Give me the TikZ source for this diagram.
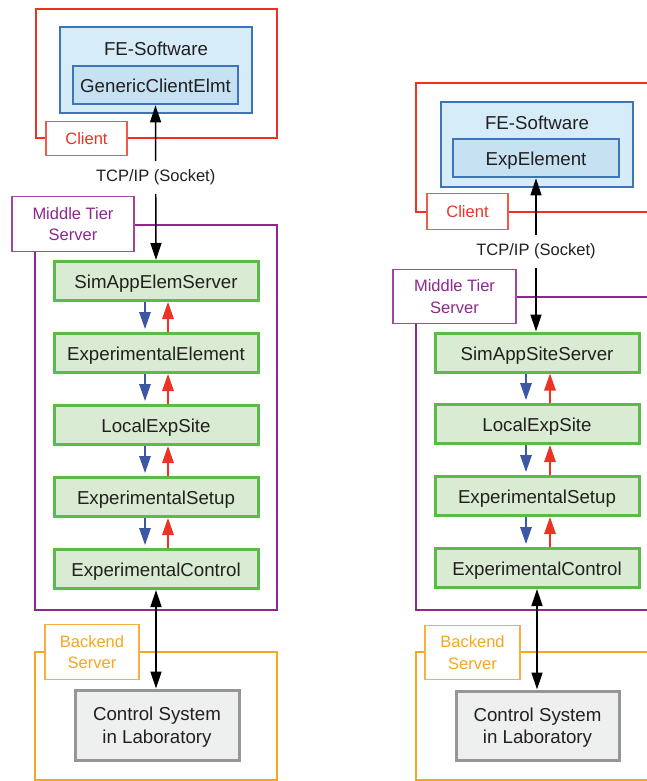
\documentclass[tikz,border=0pt]{standalone}
\usepackage{fontspec}
\setmainfont{Liberation Sans}
\usetikzlibrary{arrows.meta}

\definecolor{clientred}{RGB}{237,50,36}
\definecolor{clientlbl}{RGB}{240,90,75}
\definecolor{midpurple}{RGB}{142,40,142}
\definecolor{midlbl}{RGB}{160,70,160}
\definecolor{backorange}{RGB}{247,166,33}
\definecolor{backlbl}{RGB}{248,176,60}
\definecolor{feblue}{RGB}{62,116,184}
\definecolor{fefill}{RGB}{214,236,248}
\definecolor{elemfill}{RGB}{197,225,242}
\definecolor{modgreen}{RGB}{92,186,72}
\definecolor{modfill}{RGB}{217,236,211}
\definecolor{labgray}{RGB}{150,150,150}
\definecolor{labfill}{RGB}{238,240,239}
\definecolor{downblue}{RGB}{59,87,166}
\definecolor{upred}{RGB}{237,50,36}
\definecolor{txt}{RGB}{35,31,32}

\tikzset{
  frame/.style={draw, line width=2.8pt, fill=none, inner sep=0pt},
  tierlabel/.style={draw, line width=1.2pt, fill=white, align=center,
    font=\fontsize{16.5}{21.5}\selectfont, inner sep=0pt},
  febox/.style={draw=feblue, line width=2.8pt, fill=fefill, inner sep=0pt},
  elembox/.style={draw=feblue, line width=2.8pt, fill=elemfill, inner sep=0pt,
    font=\fontsize{18.7}{22}\selectfont, text=txt,
    text height=14.5pt, text depth=0pt},
  modbox/.style={draw=modgreen, line width=3pt, fill=modfill, inner sep=0pt,
    minimum width=204pt, minimum height=39pt,
    font=\fontsize{18.7}{22}\selectfont, text=txt,
    text height=15pt, text depth=0pt},
  labbox/.style={draw=labgray, line width=3pt, fill=labfill, inner sep=0pt,
    align=center, minimum width=164pt, minimum height=70pt,
    font=\fontsize{18.7}{22.5}\selectfont, text=txt, text depth=0pt},
  headtxt/.style={font=\fontsize{18.7}{22}\selectfont, text=txt, inner sep=0pt,
    text height=13.4pt, text depth=0pt},
  link/.style={draw=black, line width=1.4pt,
    {Triangle[length=17pt,width=11pt]}-{Triangle[length=17pt,width=11pt]}},
  socket/.style={fill=white, text=txt, inner xsep=2pt, inner ysep=9pt,
    font=\fontsize{16.5}{20}\selectfont},
  calldown/.style={draw=downblue, line width=1.5pt,
    -{Triangle[length=17pt,width=11.5pt]}, shorten >=3pt},
  callup/.style={draw=upred, line width=1.5pt,
    -{Triangle[length=17pt,width=11.5pt]}},
}

\begin{document}
\begin{tikzpicture}[x=1pt, y=-1pt]
\clip (0,0) rectangle (647,781);

% ---------------- left stack ----------------
\node[frame, draw=clientred, minimum width=241pt, minimum height=129pt] (clientL) at (156.5,73.5) {};
\node[frame, draw=midpurple, minimum width=242pt, minimum height=385pt] (midL) at (156,417.5) {};
\node[frame, draw=backorange, minimum width=242pt, minimum height=128pt] (backL) at (156,716) {};

\node[tierlabel, draw=clientlbl, text=clientred, minimum width=81pt, minimum height=34pt] (clientLblL) at (86.5,138.5) {Client};
\node[tierlabel, draw=midlbl, text=midpurple, minimum width=122pt, minimum height=55pt] (midLblL) at (73,224) {Middle Tier\\Server};
\node[tierlabel, draw=backlbl, text=backorange, minimum width=94pt, minimum height=55pt] (backLblL) at (92,652) {Backend\\Server};

\node[febox, minimum width=192pt, minimum height=86pt] (feL) at (156,70) {};
\node[headtxt] (feLtxt) at (156,48.5) {FE-Software};
\node[elembox, minimum width=165pt, minimum height=38pt] (gceL) at (155.5,85) {GenericClientElmt};

\node[modbox] (simL)   at (156,281) {SimAppElemServer};
\node[modbox] (expelL) at (156,353) {ExperimentalElement};
\node[modbox] (siteL)  at (156,425) {LocalExpSite};
\node[modbox] (setupL) at (156,497) {ExperimentalSetup};
\node[modbox] (ctrlL)  at (156,569) {ExperimentalControl};

\node[labbox] (labL) at (157,725) {Control System\\in Laboratory};

\draw[link] (gceL.south) -- node[pos=0.465, socket] (tcpL) {TCP/IP (Socket)} (simL.north);
\draw[link] (ctrlL.south) -- (ctrlL.south |- labL.north);

\foreach \a/\b in {simL/expelL, expelL/siteL, siteL/setupL, setupL/ctrlL}{
  \draw[calldown] ([xshift=-11pt]\a.south) -- ([xshift=-11pt]\b.north);
  \draw[callup]   ([xshift=12pt]\b.north) -- ([xshift=12pt]\a.south);
}

% ---------------- right stack ----------------
\node[frame, draw=clientred, minimum width=241pt, minimum height=129pt] (clientR) at (536.5,147.5) {};
\node[frame, draw=midpurple, minimum width=242pt, minimum height=313pt] (midR) at (537,453.5) {};
\node[frame, draw=backorange, minimum width=242pt, minimum height=128pt] (backR) at (537,716) {};

\node[tierlabel, draw=clientlbl, text=clientred, minimum width=81pt, minimum height=36pt] (clientLblR) at (467.5,211.5) {Client};
\node[tierlabel, draw=midlbl, text=midpurple, minimum width=123pt, minimum height=54pt] (midLblR) at (454.5,296.5) {Middle Tier\\Server};
\node[tierlabel, draw=backlbl, text=backorange, minimum width=95pt, minimum height=54pt] (backLblR) at (472.5,652.5) {Backend\\Server};

\node[febox, minimum width=192pt, minimum height=85pt] (feR) at (537,144.5) {};
\node[headtxt] (feRtxt) at (537,122.5) {FE-Software};
\node[elembox, minimum width=166pt, minimum height=38pt] (expR) at (536,158) {ExpElement};

\node[modbox] (simR)   at (537,352.5) {SimAppSiteServer};
\node[modbox] (siteR)  at (537,424) {LocalExpSite};
\node[modbox] (setupR) at (537,496) {ExperimentalSetup};
\node[modbox] (ctrlR)  at (537,568) {ExperimentalControl};

\node[labbox, minimum width=163pt, minimum height=69pt] (labR) at (537.5,725.5) {Control System\\in Laboratory};

\draw[link] (expR.south) -- node[pos=0.478, socket] (tcpR) {TCP/IP (Socket)} (expR.south |- simR.north);
\draw[link] (ctrlR.south) -- (ctrlR.south |- labR.north);

\foreach \a/\b in {simR/siteR, siteR/setupR, setupR/ctrlR}{
  \draw[calldown] ([xshift=-11pt]\a.south) -- ([xshift=-11pt]\b.north);
  \draw[callup]   ([xshift=13pt]\b.north) -- ([xshift=13pt]\a.south);
}
\end{tikzpicture}
\end{document}
